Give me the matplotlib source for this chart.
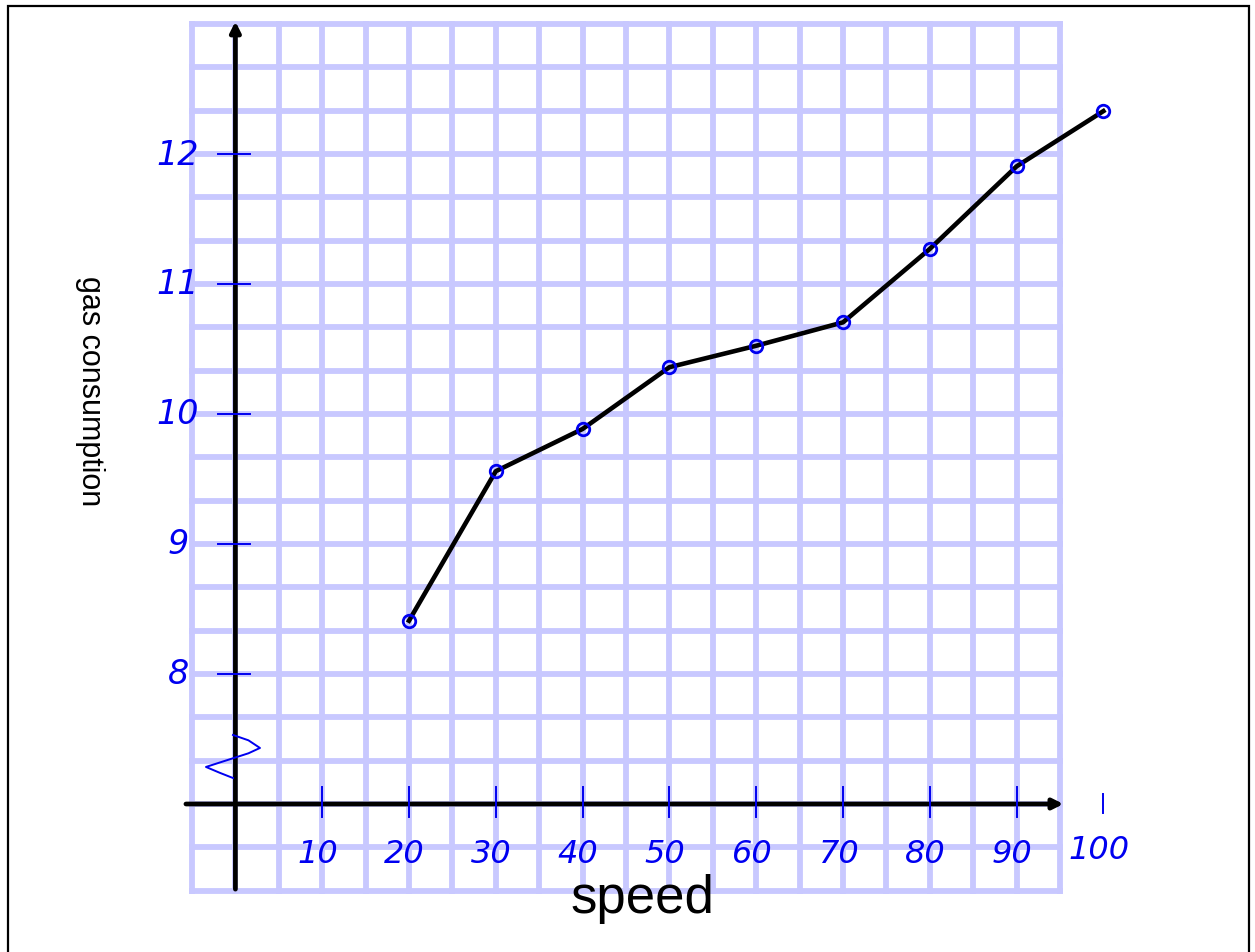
import matplotlib
matplotlib.use("Agg")
import matplotlib.pyplot as plt
from matplotlib.patches import Rectangle
import numpy as np

# ---- data ----
speed = [20, 30, 40, 50, 60, 70, 80, 90, 100]
gas = [8.41, 9.56, 9.885, 10.36, 10.525, 10.705, 11.27, 11.905, 12.33]
x_tick_values = [10, 20, 30, 40, 50, 60, 70, 80, 90, 100]
x_tick_labels = ["10", "20", "30", "40", "50", "60", "70", "80", "90", "100"]
y_tick_values = [8, 9, 10, 11, 12]
y_tick_labels = ["8", "9", "10", "11", "12"]
x_label = "speed"
y_label = "gas consumption"

W, H = 1255, 953
fig = plt.figure(figsize=(W / 100, H / 100), dpi=100)
ax = fig.add_axes([0, 0, 1, 1])
ax.set_axis_off()

# pixel -> data calibration
px_per_speed = 8.68
speed0_px = 235.4
px_per_gas = 130.0
gas10_row = 415.0
ax.set_xlim((0 - speed0_px) / px_per_speed, (W - speed0_px) / px_per_speed)
ax.set_ylim(10 - (H - gas10_row) / px_per_gas, 10 + gas10_row / px_per_gas)

grid_col = "#c8c8ff"
blue = "#0000f0"

# graph-paper grid
gx = np.arange(-5, 95.01, 5)
gy = 19 / 3 + np.arange(0, 21) / 3
ax.vlines(gx, gy[0], gy[-1], colors=grid_col, lw=4.2, capstyle="projecting", zorder=1)
ax.hlines(gy, gx[0], gx[-1], colors=grid_col, lw=4.2, capstyle="projecting", zorder=1)

# axes arrows
ax.annotate("", xy=(0, 13.02), xytext=(0, 6.345),
            arrowprops=dict(arrowstyle="-|>", lw=3.4, color="black",
                            mutation_scale=15, shrinkA=0, shrinkB=0), zorder=3)
ax.annotate("", xy=(95.4, 7), xytext=(-5.7, 7),
            arrowprops=dict(arrowstyle="-|>", lw=3.4, color="black",
                            mutation_scale=15, shrinkA=0, shrinkB=0), zorder=3)

hand = dict(color=blue, family="DejaVu Sans", style="italic")

# y ticks (hand drawn dashes) and labels
for v, lab in zip(y_tick_values, y_tick_labels):
    ax.plot([-2.0, 1.7], [v, v], color=blue, lw=1.4, zorder=4, clip_on=False)
    ax.text(-6.6, v, lab, fontsize=24, ha="center", va="center", zorder=4, **hand)

# x ticks and labels
for v, lab in zip(x_tick_values, x_tick_labels):
    top = 7.13 if v < 100 else 7.08
    bot = 6.90 if v < 100 else 6.93
    ax.plot([v, v], [bot, top], color=blue, lw=1.4, zorder=4, clip_on=False)
    ax.text(v - 0.5, 6.62 if v < 100 else 6.65, lab, fontsize=23,
            ha="center", va="center", zorder=4, **hand)

# axis break squiggle
bx = [-0.28, 1.5, 2.83, 1.5, -3.39, -1.8, -0.28]
by = [7.531, 7.49, 7.431, 7.39, 7.285, 7.24, 7.20]
ax.plot(bx, by, color=blue, lw=1.4, zorder=4, solid_joinstyle="round")

# data line and points
ax.plot(speed, gas, color="black", lw=3.3, zorder=5, clip_on=False)
ax.plot(speed, gas, linestyle="none", marker="o", ms=9, mfc="none",
        mec=blue, mew=2.0, zorder=6, clip_on=False)

# labels
ax.text(-16.75, 10.18, y_label, rotation=270, fontsize=22, family="Liberation Sans",
        ha="center", va="center", color="black")
ax.text(46.9, 6.169, x_label, fontsize=38, family="Liberation Sans",
        ha="center", va="baseline", color="black")

# page frame
fig.patches.append(Rectangle((8 / W, -0.02), (1249 - 8) / W, (H - 7) / H + 0.02,
                             transform=fig.transFigure, fill=False,
                             edgecolor="black", lw=1.6))

fig.savefig("out.png", dpi=100)
